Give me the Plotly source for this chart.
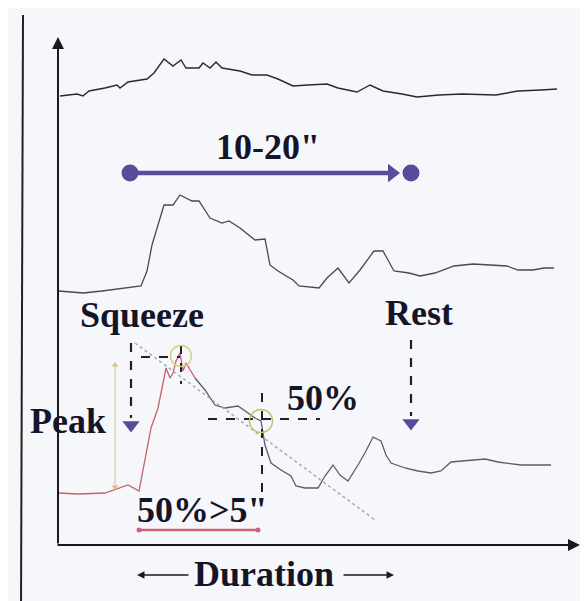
import plotly.graph_objects as go

# ---- data (image-space units: x to the right, y downward) ----
top_x = [52, 69, 75, 81, 97, 109, 112, 120, 139, 146, 156, 165, 173, 178, 191, 195, 202, 208, 214, 232, 244, 259, 270, 285, 300, 319, 330, 349, 362, 375, 394, 409, 431, 454, 488, 510, 533, 549]
top_y = [88, 86, 88, 83, 80, 77, 80, 74, 71, 65, 51, 58, 52, 60, 60, 55, 60, 54, 60, 63, 67, 67, 71, 78, 77, 76, 80, 84, 77, 83, 86, 89, 87, 86, 87, 83, 82, 81]

mid_x = [51, 75, 94, 112, 133, 139, 144, 150, 156, 165, 172, 184, 191, 202, 214, 221, 232, 247, 257, 262, 270, 285, 291, 311, 319, 330, 341, 352, 366, 375, 386, 401, 412, 427, 446, 465, 484, 499, 510, 525, 536, 546]
mid_y = [283, 285, 283, 281, 278, 263, 237, 217, 197, 197, 187, 193, 193, 210, 215, 213, 220, 232, 231, 257, 263, 272, 278, 280, 270, 260, 275, 262, 243, 243, 263, 265, 268, 265, 258, 256, 257, 258, 262, 262, 260, 260]

bot_x = [51, 70, 97, 120, 131, 137, 143, 150, 155, 158, 162, 165, 168, 172, 175, 178, 187, 197, 207, 217, 230, 237, 247, 253, 257, 263, 273, 283, 288, 297, 310, 317, 325, 332, 340, 350, 358, 365, 373, 378, 383, 397, 410, 423, 433, 443, 463, 477, 490, 513, 530, 543]
bot_y = [485, 486, 485, 477, 483, 453, 420, 400, 377, 360, 370, 365, 353, 345, 363, 355, 370, 382, 397, 400, 398, 403, 410, 413, 437, 455, 462, 468, 478, 480, 480, 468, 457, 467, 473, 457, 443, 429, 433, 447, 455, 460, 463, 465, 463, 454, 452, 451, 454, 457, 457, 457]
red_end = 16  # bottom trace drawn red up to this index

labels = ['10-20"', "Squeeze", "Rest", "Peak", "50%", '50%>5"', "Duration"]

FONT = "Liberation Serif"
TXT = "#15152a"
PURPLE = "#5a4a9c"

fig = go.Figure()

def line(x, y, color, width=1.3, dash=None):
    fig.add_trace(go.Scatter(x=x, y=y, mode="lines",
                             line=dict(color=color, width=width, dash=dash),
                             hoverinfo="skip", showlegend=False))

def mark(x, y, symbol, size, color, lw=0, lcolor=None):
    fig.add_trace(go.Scatter(x=x, y=y, mode="markers",
                             marker=dict(symbol=symbol, size=size, color=color,
                                         line=dict(width=lw, color=lcolor or color)),
                             hoverinfo="skip", showlegend=False))

# frame line on the left
line([15, 13], [7, 601], "#222", 2)

# traces
line(top_x, top_y, "#2a2a2a", 1.4)
line(mid_x, mid_y, "#4a4a4a", 1.3)
line(bot_x[:red_end + 1], bot_y[:red_end + 1], "#c8606e", 1.3)
line(bot_x[red_end:], bot_y[red_end:], "#5e5e62", 1.3)

# purple duration arrow
line([122, 386], [165, 165], PURPLE, 4.5)
mark([384], [165], "triangle-right", 16, PURPLE)
mark([122, 403], [165, 165], "circle", 17, PURPLE)

# gray dotted tangent line
line([127, 367], [335, 512], "#a8a8b0", 1.5, "dot")

# peak guides
line([133, 172], [349, 349], "#222", 2, "dash")
line([173, 173], [337, 376], "#222", 2, "dash")
mark([173], [348], "circle-open", 21, "#d8cf8a", 1.5)

# 50% guides
line([200, 312], [411, 411], "#222", 2, "dash")
line([254, 254], [385, 488], "#222", 2, "dash")
mark([253], [413], "circle-open", 23, "#b9c66e", 1.5)

# squeeze / rest dashed arrows
line([123, 123], [335, 410], "#222", 2.2, "dash")
mark([123], [417], "triangle-down", 15, PURPLE)
line([403, 403], [332, 408], "#222", 2.2, "dash")
mark([403], [415], "triangle-down", 15, PURPLE)

# peak amplitude arrow (thin tan)
line([107, 107], [357, 480], "#d5c286", 1)
mark([107], [357], "triangle-up", 6, "#d5c286")
mark([107], [479], "triangle-down", 6, "#d5c286")

# red 50% duration underline
line([131, 250], [522, 522], "#d2607a", 2.5)
mark([131, 250], [522, 522], "circle", 5, "#d2607a")

annotations = []
# axes arrows
annotations.append(dict(x=50, y=29, ax=50, ay=537, xref="x", yref="y", axref="x", ayref="y",
                        text="", showarrow=True, arrowhead=2, arrowsize=1.2, arrowwidth=2, arrowcolor="#1a1a1a"))
annotations.append(dict(x=572, y=537, ax=48, ay=537, xref="x", yref="y", axref="x", ayref="y",
                        text="", showarrow=True, arrowhead=2, arrowsize=1.2, arrowwidth=2, arrowcolor="#1a1a1a"))
# duration arrows
annotations.append(dict(x=129, y=567, ax=182, ay=567, xref="x", yref="y", axref="x", ayref="y",
                        text="", showarrow=True, arrowhead=2, arrowsize=1, arrowwidth=1.5, arrowcolor="#1a1a1a"))
annotations.append(dict(x=386, y=567, ax=334, ay=567, xref="x", yref="y", axref="x", ayref="y",
                        text="", showarrow=True, arrowhead=2, arrowsize=1, arrowwidth=1.5, arrowcolor="#1a1a1a"))

text_pos = [(260, 139), (134, 307), (411, 305), (60, 413), (315, 390), (194, 502), (256, 566)]
for t, (x, y) in zip(labels, text_pos):
    annotations.append(dict(x=x, y=y, xref="x", yref="y", text="<b>%s</b>" % t, showarrow=False,
                            xanchor="center", yanchor="middle",
                            font=dict(family=FONT, size=36, color=TXT)))

fig.update_layout(
    width=588, height=601,
    margin=dict(l=0, r=0, t=0, b=0),
    paper_bgcolor="#f6f7fa", plot_bgcolor="#f6f7fa",
    xaxis=dict(range=[0, 588], visible=False, fixedrange=True),
    yaxis=dict(range=[601, 0], visible=False, fixedrange=True),
    annotations=annotations,
    showlegend=False,
)

fig.write_html("out.html")
